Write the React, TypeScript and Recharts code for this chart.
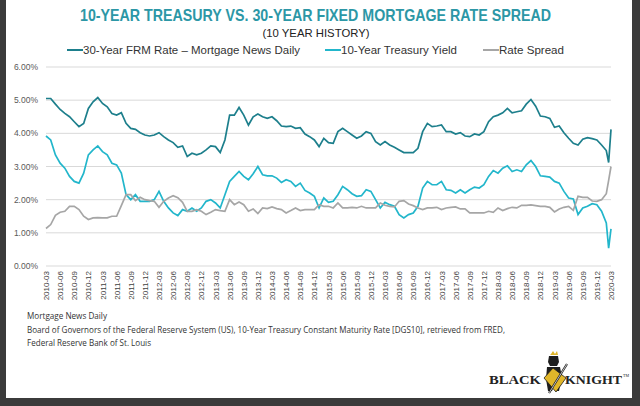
import { LineChart, Line, XAxis, YAxis, CartesianGrid } from "recharts"

// quarterly axis labels, one every 3 months starting 2010-03
const tickLabels = [
  "2010-03", "2010-06", "2010-09", "2010-12",
  "2011-03", "2011-06", "2011-09", "2011-12",
  "2012-03", "2012-06", "2012-09", "2012-12",
  "2013-03", "2013-06", "2013-09", "2013-12",
  "2014-03", "2014-06", "2014-09", "2014-12",
  "2015-03", "2015-06", "2015-09", "2015-12",
  "2016-03", "2016-06", "2016-09", "2016-12",
  "2017-03", "2017-06", "2017-09", "2017-12",
  "2018-03", "2018-06", "2018-09", "2018-12",
  "2019-03", "2019-06", "2019-09", "2019-12",
  "2020-03",
]

// monthly values, 2010-03 .. 2020-02 (index = months since 2010-03)
const frmRate = [
  5.05, 5.05, 4.88, 4.72, 4.60, 4.50, 4.35, 4.20, 4.30, 4.75,
  4.95, 5.08, 4.90, 4.80, 4.60, 4.55, 4.62, 4.30, 4.15, 4.12, 4.02, 3.95,
  3.92, 3.95, 4.02, 3.90, 3.80, 3.72, 3.58, 3.62, 3.30, 3.40, 3.35, 3.40,
  3.50, 3.62, 3.60, 3.42, 3.80, 4.55, 4.55, 4.78, 4.55, 4.25, 4.50, 4.58,
  4.50, 4.45, 4.50, 4.38, 4.22, 4.20, 4.22, 4.15, 4.17, 3.98, 3.90, 3.80,
  3.60, 3.85, 3.72, 3.70, 4.05, 4.15, 4.05, 3.95, 3.85, 3.92, 4.05, 4.00,
  3.75, 3.65, 3.75, 3.65, 3.58, 3.50, 3.42, 3.42, 3.42, 3.55, 4.05, 4.30,
  4.20, 4.22, 4.25, 4.05, 4.05, 3.98, 4.02, 3.92, 3.90, 3.98, 3.95, 4.05,
  4.35, 4.50, 4.55, 4.62, 4.75, 4.62, 4.65, 4.68, 4.88, 5.02, 4.82, 4.52,
  4.50, 4.45, 4.18, 4.22, 4.02, 3.85, 3.70, 3.65, 3.82, 3.87, 3.84, 3.80,
  3.65, 3.48,
]

const treasuryYield = [
  3.92, 3.80, 3.35, 3.10, 2.95, 2.70, 2.55, 2.50, 2.80, 3.35,
  3.50, 3.62, 3.45, 3.35, 3.10, 3.05, 2.80, 2.15, 2.00, 2.15, 1.95, 1.95,
  1.95, 2.00, 2.25, 1.95, 1.75, 1.60, 1.52, 1.70, 1.65, 1.75, 1.65, 1.75,
  1.95, 2.00, 1.90, 1.75, 2.15, 2.55, 2.70, 2.85, 2.70, 2.60, 2.78, 3.00,
  2.75, 2.72, 2.72, 2.65, 2.52, 2.60, 2.55, 2.40, 2.50, 2.28, 2.20, 2.10,
  1.75, 2.05, 1.92, 1.95, 2.15, 2.40, 2.30, 2.18, 2.10, 2.12, 2.30, 2.25,
  2.00, 1.75, 1.92, 1.85, 1.80, 1.55, 1.45, 1.55, 1.60, 1.80, 2.35, 2.55,
  2.45, 2.45, 2.55, 2.30, 2.28, 2.20, 2.30, 2.20, 2.30, 2.38, 2.35, 2.45,
  2.70, 2.88, 2.80, 2.95, 3.02, 2.85, 2.90, 2.85, 3.05, 3.18, 3.00, 2.72,
  2.70, 2.68, 2.55, 2.50, 2.25, 2.05, 2.02, 1.55, 1.75, 1.80, 1.88, 1.85,
  1.65, 1.30,
]

const rateSpread = [
  1.13, 1.25, 1.53, 1.62, 1.65, 1.80, 1.80, 1.70, 1.50, 1.40,
  1.45, 1.46, 1.45, 1.45, 1.50, 1.50, 1.82, 2.15, 2.15, 1.97, 2.07, 2.00,
  1.97, 1.95, 1.77, 1.95, 2.05, 2.12, 2.06, 1.92, 1.65, 1.65, 1.70, 1.65,
  1.55, 1.62, 1.70, 1.67, 1.65, 2.00, 1.85, 1.93, 1.85, 1.65, 1.72, 1.58,
  1.75, 1.73, 1.78, 1.73, 1.70, 1.60, 1.67, 1.75, 1.67, 1.70, 1.70, 1.70,
  1.85, 1.80, 1.80, 1.75, 1.90, 1.75, 1.75, 1.77, 1.75, 1.80, 1.75, 1.75,
  1.75, 1.90, 1.83, 1.80, 1.78, 1.95, 1.97, 1.87, 1.82, 1.75, 1.70, 1.75,
  1.75, 1.77, 1.70, 1.75, 1.77, 1.78, 1.72, 1.72, 1.60, 1.60, 1.60, 1.60,
  1.65, 1.62, 1.75, 1.67, 1.73, 1.77, 1.75, 1.83, 1.83, 1.84, 1.82, 1.80,
  1.80, 1.77, 1.63, 1.72, 1.77, 1.80, 1.68, 2.10, 2.07, 2.07, 1.96, 1.95,
  2.00, 2.18,
]

// March 2020 swing (dip, then spike)
const marchSteps = [119.5, 120]
const marchFrm = [3.12, 4.12]
const marchTreasury = [0.54, 1.12]
const marchSpread = [2.58, 3.0]

const yTicks = [0, 1, 2, 3, 4, 5, 6]

const FRM_COLOR = "#1d7f8c"
const UST_COLOR = "#22b6cb"
const SPREAD_COLOR = "#a6a6a6"

const data = [
  ...frmRate.map((v, i) => ({ t: i, frm: v, ust: treasuryYield[i], spread: rateSpread[i] })),
  ...marchSteps.map((t, i) => ({ t, frm: marchFrm[i], ust: marchTreasury[i], spread: marchSpread[i] })),
]

const QuarterTick = ({ x, y, payload }: any) => (
  <text
    x={x}
    y={y - 3}
    dy={3}
    transform={`rotate(-90, ${x}, ${y - 3})`}
    textAnchor="end"
    fontSize={8}
    fill="#404040"
    fontFamily="Liberation Sans, Arial, sans-serif"
  >
    {tickLabels[Math.round(payload.value / 3)]}
  </text>
)

const legendItems = [
  { label: "30-Year FRM Rate \u2013 Mortgage News Daily", color: FRM_COLOR, x: 67, w: 217 },
  { label: "10-Year Treasury Yield", color: UST_COLOR, x: 325, w: 116 },
  { label: "Rate Spread", color: SPREAD_COLOR, x: 483, w: 65 },
]

export default function App() {
  const font = "Liberation Sans, Arial, sans-serif"
  return (
    <div style={{ position: "absolute", left: 0, top: 0, width: 640, height: 406, background: "#3b3b3b", overflow: "hidden" }}>
      <div style={{ position: "absolute", left: 6, top: 0, width: 626, height: 398, background: "#fff" }} />
      <div style={{ position: "absolute", left: 0, top: 0 }}>
        <LineChart width={640} height={406} data={data} margin={{ top: 67, right: 29, left: 0, bottom: 0 }}>
          <CartesianGrid vertical={false} stroke="#d9d9d9" />
          <XAxis
            dataKey="t"
            type="number"
            domain={[0, 120]}
            ticks={tickLabels.map((_, i) => i * 3)}
            interval={0}
            height={140}
            axisLine={false}
            tickLine={false}
            tick={<QuarterTick />}
          />
          <YAxis
            domain={[0, 6]}
            ticks={yTicks}
            width={46}
            axisLine={false}
            tickLine={false}
            tickFormatter={(v: number) => v.toFixed(2) + "%"}
            tick={{ fontSize: 8.5, fill: "#595959", fontFamily: font }}
          />
          <Line dataKey="frm" stroke={FRM_COLOR} strokeWidth={1.7} dot={false} isAnimationActive={false} />
          <Line dataKey="ust" stroke={UST_COLOR} strokeWidth={1.7} dot={false} isAnimationActive={false} />
          <Line dataKey="spread" stroke={SPREAD_COLOR} strokeWidth={1.7} dot={false} isAnimationActive={false} />
        </LineChart>
      </div>
      <svg width={640} height={406} style={{ position: "absolute", left: 0, top: 0, pointerEvents: "none" }}>
        <text
          x={315.5}
          y={21}
          textAnchor="middle"
          fontFamily="Liberation Sans Narrow, Arial Narrow, Liberation Sans, sans-serif"
          fontWeight="bold"
          fontSize={16.5}
          fill="#2c97a6"
          textLength={471}
          lengthAdjust="spacingAndGlyphs"
        >
          10-YEAR TREASURY VS. 30-YEAR FIXED MORTGAGE RATE SPREAD
        </text>
        <text x={316} y={37} textAnchor="middle" fontFamily={font} fontSize={11.5} fill="#222" textLength={107} lengthAdjust="spacingAndGlyphs">
          (10 YEAR HISTORY)
        </text>
        {legendItems.map((it) => (
          <g key={it.label}>
            <line x1={it.x} x2={it.x + 16} y1={50} y2={50} stroke={it.color} strokeWidth={2} />
            <text x={it.x + 16} y={54} fontFamily={font} fontSize={11.5} fill="#333" textLength={it.w} lengthAdjust="spacingAndGlyphs">
              {it.label}
            </text>
          </g>
        ))}
        <g fontFamily="Open Sans, Liberation Sans, sans-serif" fontSize={8.5} fill="#333">
          <text x={27} y={319} textLength={80} lengthAdjust="spacingAndGlyphs">Mortgage News Daily</text>
          <text x={27} y={333} textLength={478} lengthAdjust="spacingAndGlyphs">
            Board of Governors of the Federal Reserve System (US), 10-Year Treasury Constant Maturity Rate [DGS10], retrieved from FRED,
          </text>
          <text x={27} y={346} textLength={124} lengthAdjust="spacingAndGlyphs">Federal Reserve Bank of St. Louis</text>
        </g>
        <g>
          <text x={489} y={384} fontFamily="Liberation Serif, serif" fontWeight="bold" fontSize={13.5} fill="#222" textLength={52} lengthAdjust="spacingAndGlyphs">BLACK</text>
          <text x={565} y={384} fontFamily="Liberation Serif, serif" fontWeight="bold" fontSize={13.5} fill="#222" textLength={57} lengthAdjust="spacingAndGlyphs">KNIGHT</text>
          <text x={623} y={377} fontFamily="Liberation Serif, serif" fontSize={4} fill="#222">TM</text>
          {/* knight mark */}
          <polygon points="551,354 553,351 555,354 557,351 558,355 550,355" fill="#e0b62a" />
          <path d="M549,356 h9 l1,6 l-2,4 h-7 l-2,-4 z" fill="#1e1e1e" />
          <path d="M547,367 h13 l2,10 l-3,14 h-4 l-1,-6 l-2,6 h-4 l-2,-12 z" fill="#1e1e1e" />
          <polygon points="544,378 553,368 566,378 556,392" fill="#e0b62a" stroke="#1e1e1e" strokeWidth={0.8} />
          <line x1={549} y1={393} x2={567} y2={364} stroke="#1e1e1e" strokeWidth={2.2} />
          <line x1={549} y1={393} x2={567} y2={364} stroke="#e8e8e8" strokeWidth={0.8} />
        </g>
      </svg>
    </div>
  )
}
